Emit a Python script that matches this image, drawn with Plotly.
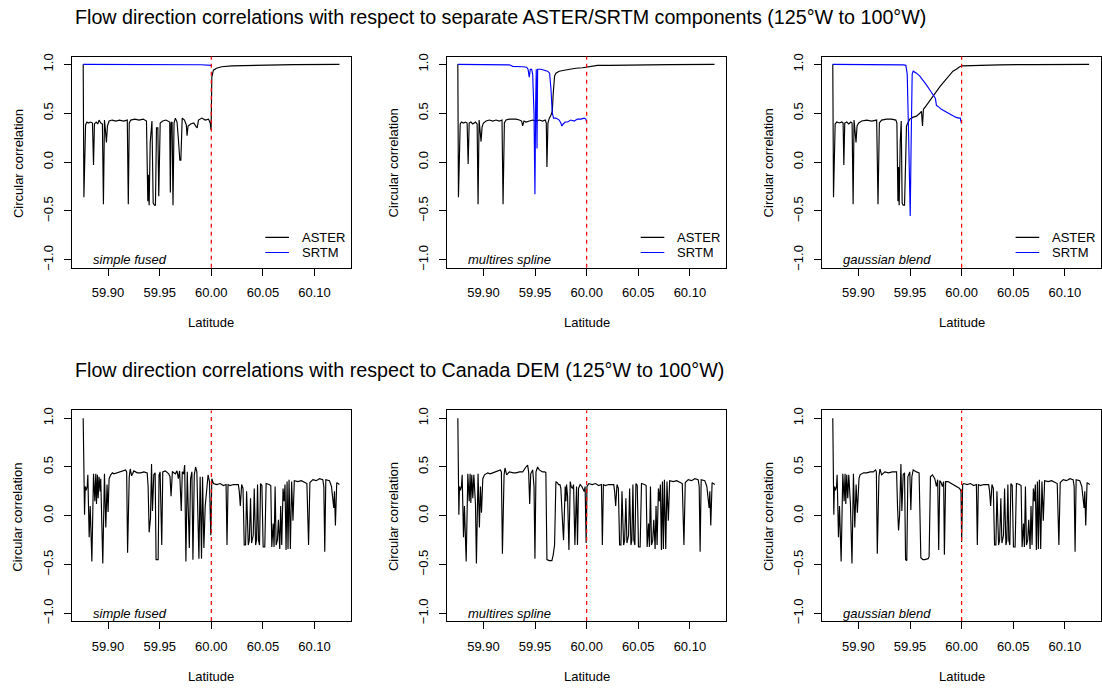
import plotly.graph_objects as go

# ---------------- data ----------------
tick_lat = [59.90, 59.95, 60.00, 60.05, 60.10]
tick_lat_text = ["59.90", "59.95", "60.00", "60.05", "60.10"]
tick_corr = [-1.0, -0.5, 0.0, 0.5, 1.0]
tick_corr_text = ["\u22121.0", "\u22120.5", "0.0", "0.5", "1.0"]
boundary_lat = 60.00

top_title = "Flow direction correlations with respect to separate ASTER/SRTM components (125\u00b0W to 100\u00b0W)"
bottom_title = "Flow direction correlations with respect to Canada DEM (125\u00b0W to 100\u00b0W)"
methods = ["simple fused", "multires spline", "gaussian blend"]
series_names = ["ASTER", "SRTM"]

# --- top row: simple fused ---
sf_aster_lat = [59.8759, 59.8766, 59.8782, 59.8795, 59.8810, 59.8830, 59.8849, 59.8859, 59.8868, 59.8885,
                59.8900, 59.8913, 59.8930, 59.8945, 59.8955, 59.8965, 59.8975, 59.8984, 59.8994, 59.9010,
                59.9040, 59.9075, 59.9110, 59.9150, 59.9186, 59.9196, 59.9205, 59.9220, 59.9260, 59.9300,
                59.9340, 59.9372, 59.9385, 59.9390, 59.9398, 59.9408, 59.9425, 59.9437, 59.9449, 59.9459,
                59.9469, 59.9482, 59.9491, 59.9505, 59.9530, 59.9560, 59.9597, 59.9603, 59.9610, 59.9620,
                59.9629, 59.9639, 59.9652, 59.9668, 59.9680, 59.9695, 59.9705, 59.9712, 59.9718, 59.9740,
                59.9758, 59.9765, 59.9775, 59.9800, 59.9830, 59.9854, 59.9863, 59.9876, 59.9908, 59.9941,
                59.9973, 59.9989, 59.9998, 60.0005, 60.0020, 60.0050, 60.0100, 60.0200, 60.0400, 60.0600,
                60.0800, 60.1241]
sf_aster_corr = [1.00, -0.36, 0.38, 0.41, 0.40, 0.41, 0.40, -0.03, 0.39, 0.41,
                 0.39, 0.43, 0.40, 0.39, -0.43, 0.43, 0.32, 0.20, 0.37, 0.42,
                 0.43, 0.42, 0.43, 0.42, 0.43, -0.43, 0.40, 0.43, 0.44, 0.43,
                 0.44, 0.42, -0.40, -0.13, -0.44, 0.20, 0.42, -0.42, -0.44, -0.44,
                 0.35, 0.35, -0.35, 0.40, 0.42, 0.43, 0.41, -0.31, 0.40, 0.41,
                 -0.44, 0.40, 0.45, 0.41, 0.25, 0.02, 0.02, 0.30, 0.45, 0.43,
                 0.38, 0.27, 0.37, 0.39, 0.40, 0.36, 0.35, 0.43, 0.45, 0.43,
                 0.44, 0.40, 0.33, 0.87, 0.94, 0.96, 0.975, 0.985, 0.99, 0.995,
                 0.998, 1.00]
sf_srtm_lat = [59.8759, 59.9500, 59.9900, 60.0000]
sf_srtm_corr = [1.00, 1.00, 0.996, 0.99]

# --- top row: multires spline ---
ms_aster_lat = [59.8752, 59.8758, 59.8775, 59.8787, 59.8807, 59.8826, 59.8842, 59.8852, 59.8862, 59.8878,
                59.8897, 59.8910, 59.8923, 59.8939, 59.8948, 59.8958, 59.8968, 59.8977, 59.8987, 59.9000,
                59.9026, 59.9058, 59.9090, 59.9122, 59.9155, 59.9180, 59.9190, 59.9203, 59.9219, 59.9251,
                59.9283, 59.9316, 59.9348, 59.9370, 59.9380, 59.9393, 59.9412, 59.9444, 59.9477, 59.9509,
                59.9541, 59.9573, 59.9599, 59.9609, 59.9615, 59.9625, 59.9638, 59.9654, 59.9667, 59.9676,
                59.9689, 59.9702, 59.9734, 59.9783, 59.9831, 59.9895, 59.9960, 60.0000, 60.0040, 60.0072,
                60.0105, 60.0217, 60.0475, 60.0797, 60.1238]
ms_aster_corr = [1.00, -0.36, 0.39, 0.41, 0.40, 0.41, 0.40, -0.02, 0.40, 0.41,
                 0.39, 0.40, 0.41, 0.39, -0.43, 0.43, 0.30, 0.21, 0.36, 0.40,
                 0.42, 0.43, 0.42, 0.43, 0.42, 0.43, -0.43, 0.40, 0.43, 0.44,
                 0.44, 0.44, 0.43, 0.42, 0.37, 0.42, 0.41, 0.42, 0.43, 0.42,
                 0.43, 0.42, 0.43, 0.40, -0.05, 0.40, 0.45, 0.48, 0.52, 0.70,
                 0.88, 0.91, 0.93, 0.94, 0.95, 0.96, 0.965, 0.97, 0.975, 0.98,
                 0.99, 0.99, 0.995, 0.998, 1.00]
ms_srtm_lat = [59.8752, 59.9187, 59.9251, 59.9283, 59.9332, 59.9380, 59.9419, 59.9432, 59.9444, 59.9454,
               59.9467, 59.9477, 59.9490, 59.9499, 59.9506, 59.9512, 59.9519, 59.9525, 59.9557, 59.9589,
               59.9622, 59.9641, 59.9654, 59.9667, 59.9680, 59.9702, 59.9721, 59.9734, 59.9750, 59.9760,
               59.9773, 59.9792, 59.9815, 59.9847, 59.9879, 59.9911, 59.9944, 59.9976, 59.9992, 60.0000]
ms_srtm_corr = [1.00, 1.00, 0.995, 0.98, 0.98, 0.975, 0.97, 0.95, 0.87, 0.95,
                0.95, 0.90, 0.50, -0.33, 0.60, 0.95, 0.14, 0.95, 0.95, 0.94,
                0.93, 0.91, 0.75, 0.50, 0.45, 0.45, 0.44, 0.43, 0.40, 0.37,
                0.39, 0.41, 0.41, 0.43, 0.42, 0.44, 0.44, 0.45, 0.44, 0.41]

# --- top row: gaussian blend ---
gb_aster_lat = [59.8752, 59.8759, 59.8775, 59.8791, 59.8817, 59.8839, 59.8852, 59.8859, 59.8868, 59.8887,
                59.8907, 59.8926, 59.8939, 59.8949, 59.8958, 59.8968, 59.8977, 59.8987, 59.9003, 59.9032,
                59.9080, 59.9129, 59.9177, 59.9190, 59.9203, 59.9225, 59.9273, 59.9322, 59.9363, 59.9373,
                59.9383, 59.9389, 59.9395, 59.9405, 59.9415, 59.9424, 59.9434, 59.9447, 59.9457, 59.9466,
                59.9479, 59.9498, 59.9531, 59.9563, 59.9595, 59.9611, 59.9621, 59.9630, 59.9659, 59.9691,
                59.9723, 59.9756, 59.9788, 59.9820, 59.9852, 59.9884, 59.9916, 59.9949, 59.9981, 60.0006,
                60.0109, 60.0367, 60.0688, 60.1235]
gb_aster_corr = [1.00, -0.36, 0.39, 0.41, 0.40, 0.41, 0.40, -0.03, 0.40, 0.41,
                 0.39, 0.41, 0.40, -0.43, 0.43, 0.30, 0.20, 0.37, 0.40, 0.42,
                 0.43, 0.42, 0.43, -0.43, 0.40, 0.43, 0.44, 0.44, 0.43, 0.40,
                 -0.40, -0.05, -0.44, 0.20, 0.42, -0.42, -0.44, -0.44, 0.10, 0.37,
                 0.40, 0.44, 0.46, 0.47, 0.50, 0.52, 0.37, 0.54, 0.58, 0.63,
                 0.67, 0.72, 0.77, 0.81, 0.85, 0.89, 0.93, 0.95, 0.975, 0.985,
                 0.99, 0.995, 0.998, 1.00]
gb_srtm_lat = [59.8752, 59.9241, 59.9434, 59.9460, 59.9473, 59.9486, 59.9502, 59.9511, 59.9521, 59.9531,
               59.9563, 59.9595, 59.9627, 59.9659, 59.9691, 59.9723, 59.9746, 59.9756, 59.9772, 59.9804,
               59.9852, 59.9900, 59.9942, 59.9974, 59.9987, 59.9997]
gb_srtm_corr = [1.00, 1.00, 0.995, 0.99, 0.90, 0.30, -0.55, 0.20, 0.90, 0.93,
                0.91, 0.88, 0.84, 0.79, 0.74, 0.69, 0.65, 0.58, 0.57, 0.54,
                0.51, 0.48, 0.46, 0.45, 0.45, 0.40]

# --- bottom row: vs Canada DEM, south of 60N (per method) ---
sf_cdem_lat = [59.8759, 59.8772, 59.8779, 59.8788, 59.8798, 59.8804, 59.8817, 59.8827, 59.8843, 59.8859,
               59.8872, 59.8881, 59.8888, 59.8897, 59.8904, 59.8913, 59.8923, 59.8929, 59.8949, 59.8965,
               59.8978, 59.8990, 59.9000, 59.9010, 59.9026, 59.9042, 59.9058, 59.9090, 59.9116, 59.9138,
               59.9170, 59.9180, 59.9189, 59.9205, 59.9215, 59.9228, 59.9250, 59.9283, 59.9315, 59.9347,
               59.9379, 59.9388, 59.9398, 59.9411, 59.9421, 59.9430, 59.9443, 59.9456, 59.9465, 59.9485,
               59.9494, 59.9504, 59.9520, 59.9530, 59.9555, 59.9587, 59.9600, 59.9610, 59.9623, 59.9652,
               59.9668, 59.9681, 59.9693, 59.9709, 59.9719, 59.9732, 59.9742, 59.9754, 59.9767, 59.9787,
               59.9799, 59.9812, 59.9822, 59.9835, 59.9848, 59.9860, 59.9880, 59.9892, 59.9905, 59.9915,
               59.9928, 59.9941, 59.9957, 59.9969, 59.9982, 59.9995, 60.0005]
sf_cdem_corr = [1.00, 0.01, 0.30, 0.26, 0.30, 0.42, -0.22, 0.10, -0.47, 0.43,
                0.15, 0.43, 0.12, 0.42, 0.18, 0.40, 0.25, 0.38, -0.49, 0.43,
                -0.12, 0.32, 0.04, 0.38, 0.42, 0.44, 0.43, 0.44, 0.45, 0.46,
                0.47, 0.45, -0.38, 0.40, 0.48, 0.41, 0.46, 0.44, 0.44, 0.45,
                0.44, 0.30, -0.17, -0.02, 0.53, 0.05, 0.42, 0.44, -0.45, -0.45,
                0.42, 0.45, -0.30, 0.45, 0.46, 0.43, 0.40, 0.20, 0.45, 0.43,
                0.46, 0.38, 0.46, 0.05, 0.45, 0.43, 0.52, -0.47, 0.45, -0.33,
                0.38, 0.45, -0.45, 0.42, 0.50, 0.45, -0.44, 0.40, -0.44, 0.40,
                -0.33, 0.10, 0.25, 0.42, 0.35, -0.20, 0.38]

ms_cdem_lat = [59.8752, 59.8762, 59.8768, 59.8778, 59.8787, 59.8794, 59.8807, 59.8816, 59.8833, 59.8849,
               59.8862, 59.8871, 59.8878, 59.8887, 59.8897, 59.8907, 59.8923, 59.8932, 59.8948, 59.8961,
               59.8971, 59.8981, 59.8994, 59.9010, 59.9042, 59.9065, 59.9090, 59.9115, 59.9138, 59.9164,
               59.9174, 59.9184, 59.9200, 59.9209, 59.9225, 59.9251, 59.9290, 59.9316, 59.9350, 59.9380,
               59.9412, 59.9428, 59.9438, 59.9448, 59.9458, 59.9477, 59.9490, 59.9499, 59.9509, 59.9525,
               59.9541, 59.9573, 59.9596, 59.9605, 59.9615, 59.9638, 59.9663, 59.9676, 59.9689, 59.9696,
               59.9702, 59.9715, 59.9728, 59.9741, 59.9750, 59.9763, 59.9776, 59.9792, 59.9799, 59.9805,
               59.9815, 59.9828, 59.9841, 59.9850, 59.9863, 59.9873, 59.9886, 59.9902, 59.9911, 59.9921,
               59.9937, 59.9953, 59.9976, 59.9985, 59.9995, 60.0003]
ms_cdem_corr = [1.00, 0.01, 0.30, 0.26, 0.30, 0.42, -0.22, 0.10, -0.47, 0.43,
                0.15, 0.43, 0.13, 0.42, 0.18, 0.42, 0.12, -0.49, 0.43, -0.12,
                0.30, 0.03, 0.38, 0.42, 0.44, 0.43, 0.44, 0.45, 0.46, 0.47,
                0.45, -0.39, 0.42, 0.49, 0.42, 0.45, 0.44, 0.44, 0.45, 0.45,
                0.50, 0.52, 0.45, 0.12, 0.43, 0.47, 0.30, -0.44, 0.45, 0.50,
                0.47, 0.45, 0.45, 0.44, -0.45, -0.46, -0.46, -0.40, -0.30, 0.30,
                0.35, 0.34, 0.32, 0.32, 0.28, 0.00, -0.25, 0.30, 0.15, 0.32,
                0.20, -0.35, 0.35, 0.30, 0.28, 0.32, -0.30, 0.30, -0.30, 0.28,
                0.32, 0.30, 0.25, 0.30, -0.28, 0.30]

gb_cdem_lat = [59.8752, 59.8762, 59.8768, 59.8778, 59.8788, 59.8794, 59.8807, 59.8817, 59.8833, 59.8849,
               59.8862, 59.8871, 59.8878, 59.8887, 59.8897, 59.8907, 59.8923, 59.8938, 59.8952, 59.8965,
               59.8978, 59.8990, 59.9006, 59.9016, 59.9050, 59.9080, 59.9115, 59.9145, 59.9167, 59.9174,
               59.9183, 59.9199, 59.9209, 59.9225, 59.9257, 59.9290, 59.9330, 59.9370, 59.9379, 59.9389,
               59.9399, 59.9412, 59.9421, 59.9434, 59.9447, 59.9457, 59.9469, 59.9479, 59.9498, 59.9508,
               59.9518, 59.9531, 59.9563, 59.9588, 59.9605, 59.9625, 59.9643, 59.9665, 59.9675, 59.9685,
               59.9698, 59.9717, 59.9740, 59.9756, 59.9768, 59.9778, 59.9788, 59.9801, 59.9814, 59.9826,
               59.9833, 59.9845, 59.9868, 59.9884, 59.9916, 59.9949, 59.9981, 59.9994, 60.0000, 60.0010]
gb_cdem_corr = [1.00, 0.01, 0.30, 0.26, 0.30, 0.42, -0.22, 0.10, -0.47, 0.43,
                0.15, 0.43, 0.12, 0.42, 0.18, 0.42, 0.12, -0.49, 0.43, -0.12,
                0.32, 0.03, 0.38, 0.42, 0.44, 0.44, 0.45, 0.45, 0.47, 0.45,
                -0.39, 0.40, 0.48, 0.42, 0.45, 0.44, 0.45, 0.45, 0.10, -0.15,
                0.00, 0.53, 0.05, 0.42, 0.44, -0.45, -0.46, 0.40, 0.45, 0.06,
                0.40, 0.47, 0.45, 0.44, -0.43, -0.45, -0.45, -0.44, -0.44, -0.42,
                0.40, 0.42, 0.38, 0.30, 0.37, -0.35, 0.36, 0.34, 0.30, 0.35,
                -0.40, 0.35, 0.35, 0.34, 0.32, 0.30, 0.28, 0.25, -0.27, 0.32]

# --- bottom row: north of 60N (same for all methods) ---
north_lat = [60.0021, 60.0053, 60.0085, 60.0117, 60.0143, 60.0152, 60.0162, 60.0181, 60.0213, 60.0262,
             60.0271, 60.0281, 60.0294, 60.0307, 60.0319, 60.0332, 60.0342, 60.0358, 60.0368, 60.0380,
             60.0390, 60.0406, 60.0416, 60.0429, 60.0438, 60.0448, 60.0457, 60.0467, 60.0477, 60.0490,
             60.0502, 60.0518, 60.0531, 60.0560, 60.0576, 60.0586, 60.0599, 60.0608, 60.0618, 60.0628,
             60.0640, 60.0650, 60.0663, 60.0672, 60.0682, 60.0695, 60.0705, 60.0714, 60.0724, 60.0734,
             60.0743, 60.0753, 60.0766, 60.0778, 60.0791, 60.0804, 60.0839, 60.0872, 60.0904, 60.0926,
             60.0942, 60.0955, 60.0984, 60.1016, 60.1048, 60.1080, 60.1090, 60.1099, 60.1109, 60.1144,
             60.1164, 60.1177, 60.1186, 60.1193, 60.1202, 60.1215, 60.1241]
north_corr = [0.33, 0.32, 0.33, 0.31, 0.32, -0.30, 0.32, 0.31, 0.32, 0.32,
              0.25, 0.10, 0.32, 0.28, -0.30, -0.30, 0.25, -0.30, -0.25, 0.18,
              -0.28, -0.20, 0.28, -0.30, -0.25, 0.32, -0.25, -0.30, 0.33, 0.31,
              -0.32, -0.32, 0.33, 0.32, 0.31, -0.32, -0.08, -0.32, 0.30, -0.30,
              -0.25, -0.04, -0.34, 0.10, -0.30, 0.28, 0.15, 0.32, -0.35, 0.35,
              -0.34, 0.37, -0.34, 0.35, -0.05, 0.36, 0.35, 0.36, 0.34, 0.33,
              -0.30, 0.34, 0.37, 0.36, 0.38, 0.37, 0.30, -0.37, 0.37, 0.36,
              0.30, 0.12, 0.08, 0.25, -0.10, 0.34, 0.32]

# ---------------- layout ----------------
W, H = 1102, 691
FONT = "Liberation Sans, Arial, Helvetica, sans-serif"
col_left = [72.0, 447.7, 823.0]
col_w = 279.0
row_top = [54.0, 411.0]
row_h = [213.0, 212.5]
x_range = [59.865, 60.135]
y_range = [-1.08, 1.08]
BLUE = "#0000FF"

top_series = [
    [(sf_aster_lat, sf_aster_corr, "black"), (sf_srtm_lat, sf_srtm_corr, BLUE)],
    [(ms_aster_lat, ms_aster_corr, "black"), (ms_srtm_lat, ms_srtm_corr, BLUE)],
    [(gb_aster_lat, gb_aster_corr, "black"), (gb_srtm_lat, gb_srtm_corr, BLUE)],
]
bottom_series = [
    [(sf_cdem_lat + north_lat, sf_cdem_corr + north_corr, "black")],
    [(ms_cdem_lat + north_lat, ms_cdem_corr + north_corr, "black")],
    [(gb_cdem_lat + north_lat, gb_cdem_corr + north_corr, "black")],
]

fig = go.Figure()
layout = dict(
    width=W, height=H, margin=dict(l=0, r=0, t=0, b=0),
    paper_bgcolor="white", plot_bgcolor="white", showlegend=False,
    font=dict(family=FONT, size=13, color="black"),
)
shapes = []
annotations = []

def px_x(v):
    return v / W

def px_y(v):
    return 1 - v / H

for r in range(2):
    for c in range(3):
        n = r * 3 + c + 1
        sfx = "" if n == 1 else str(n)
        x0 = col_left[c]
        x1 = min(col_left[c] + col_w, W)
        y0 = row_top[r]
        y1 = row_top[r] + row_h[r]
        layout["xaxis" + sfx] = dict(
            domain=[px_x(x0), px_x(x1)], range=x_range, anchor="y" + sfx,
            showline=True, mirror=True, linecolor="black", linewidth=1,
            ticks="outside", ticklen=7, tickwidth=1, tickcolor="black",
            tickvals=tick_lat, ticktext=tick_lat_text, tickfont=dict(size=13),
            ticklabelstandoff=6, showgrid=False, zeroline=False, fixedrange=True,
        )
        layout["yaxis" + sfx] = dict(
            domain=[px_y(y1), px_y(y0)], range=y_range, anchor="x" + sfx,
            showline=True, mirror=True, linecolor="black", linewidth=1,
            ticks="outside", ticklen=7, tickwidth=1, tickcolor="black",
            tickvals=tick_corr, ticktext=tick_corr_text, tickfont=dict(size=13),
            tickangle=-90, ticklabelstandoff=6, showgrid=False, zeroline=False,
            fixedrange=True,
        )
        series = top_series[c] if r == 0 else bottom_series[c]
        for lat, corr, col in series:
            fig.add_trace(go.Scatter(
                x=lat, y=corr, mode="lines", line=dict(color=col, width=1.15),
                xaxis="x" + sfx, yaxis="y" + sfx, hoverinfo="skip",
            ))
        # boundary at 60N
        shapes.append(dict(
            type="line", xref="x" + sfx, yref="y" + sfx + " domain",
            x0=boundary_lat, x1=boundary_lat, y0=0, y1=1,
            line=dict(color="#EE0000", width=1.2, dash="4px,4px"), layer="above",
        ))
        # method label
        annotations.append(dict(
            x=59.8835, y=-1.0, xref="x" + sfx, yref="y" + sfx, text=methods[c],
            showarrow=False, xanchor="left", yanchor="middle",
            font=dict(size=13, style="italic"),
        ))
        # axis titles
        annotations.append(dict(
            x=px_x(x0 + col_w / 2), y=px_y(y1 + 55.5), xref="paper", yref="paper",
            text="Latitude", showarrow=False, xanchor="center", yanchor="middle",
            font=dict(size=13),
        ))
        annotations.append(dict(
            x=px_x(x0 - 54), y=px_y((y0 + y1) / 2 + 1), xref="paper", yref="paper",
            text="Circular correlation", showarrow=False, xanchor="center",
            yanchor="middle", textangle=-90, font=dict(size=13),
        ))
        # legend (top row)
        if r == 0:
            for name, ly, col in [(series_names[0], -0.77, "black"), (series_names[1], -0.925, BLUE)]:
                shapes.append(dict(
                    type="line", xref="x" + sfx, yref="y" + sfx,
                    x0=60.0523, x1=60.0752, y0=ly, y1=ly,
                    line=dict(color=col, width=1.15),
                ))
                annotations.append(dict(
                    x=60.0858, y=ly, xref="x" + sfx, yref="y" + sfx, text=name,
                    showarrow=False, xanchor="left", yanchor="middle",
                    font=dict(size=13),
                ))

annotations.append(dict(
    x=px_x(72.7), y=px_y(14.5), xref="paper", yref="paper", text=top_title,
    showarrow=False, xanchor="left", yanchor="middle", font=dict(size=19.7),
))
annotations.append(dict(
    x=px_x(72.7), y=px_y(370.5), xref="paper", yref="paper", text=bottom_title,
    showarrow=False, xanchor="left", yanchor="middle", font=dict(size=19.7),
))

layout["shapes"] = shapes
layout["annotations"] = annotations
fig.update_layout(**layout)
fig.write_html("out.html")
